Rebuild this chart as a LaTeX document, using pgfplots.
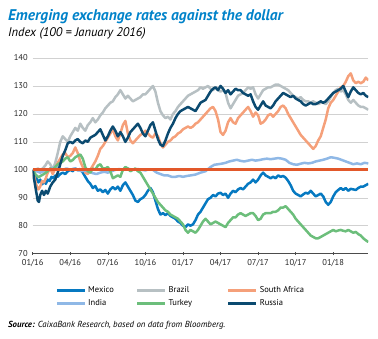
\documentclass[border=0pt]{standalone}
\usepackage{pgfplots}
\pgfplotsset{compat=1.18}
\usepackage{fontspec}
\setmainfont{PT Sans}
\definecolor{mexico}{HTML}{0679C1}
\definecolor{brazil}{HTML}{B7C0C3}
\definecolor{safrica}{HTML}{F5A07A}
\definecolor{india}{HTML}{8FB8E6}
\definecolor{turkey}{HTML}{6CBE7B}
\definecolor{russia}{HTML}{0B4A70}
\definecolor{redline}{HTML}{E2582A}
\definecolor{titleblue}{HTML}{0082C9}
\begin{document}
\begin{tikzpicture}
\useasboundingbox (0pt,0pt) rectangle (378pt,338pt);
\node[anchor=base west,inner sep=0,font=\fontsize{15.5}{17}\selectfont\bfseries\itshape,text=titleblue] at (8pt,317.5pt) {Emerging exchange rates against the dollar};
\node[anchor=base west,inner sep=0,font=\fontsize{12.5}{14}\selectfont\itshape] at (8pt,301.3pt) {Index (100 = January 2016)};
\node[anchor=base west,inner sep=0,font=\fontsize{8.8}{10}\selectfont\itshape] at (8pt,11pt) {\textbf{Source:} CaixaBank Research, based on data from Bloomberg.};
\begin{axis}[
  at={(32.7pt,84.3pt)}, anchor=south west,
  scale only axis, width=335.6pt, height=195.7pt,
  xmin=0, xmax=26.8, ymin=70, ymax=140,
  axis x line*=bottom, axis y line*=left,
  axis line style={-},
  y axis line style={draw=none},
  x axis line style={draw=black!70, line width=0.6pt},
  xtick={0,3,...,24},
  xticklabels={01/16,04/16,07/16,10/16,01/17,04/17,07/17,10/17,01/18},
  ytick={70,80,...,140},
  ymajorgrids,
  grid style={black!18, line width=0.5pt},
  tick align=center,
  major tick length=3pt,
  xtick style={draw=black!70, line width=0.5pt},
  ytick style={draw=none},
  tick label style={font=\fontsize{8.5}{9}\selectfont, text=black!85},
  xticklabel style={yshift=-1pt},
  /pgf/number format/assume math mode=true,
  legend columns=3,
  legend cell align=left,
  legend style={draw=none, fill=none, at={(0.058,-0.148)}, anchor=north west,
    font=\fontsize{8.5}{9}\selectfont, row sep=1pt,
    /tikz/column 2/.style={column sep=20pt},
    /tikz/column 4/.style={column sep=33pt}},
  legend image code/.code={\draw[#1, line width=2.8pt] (0pt,0pt) -- (28pt,0pt);},
  every axis plot/.append style={line width=2.5pt, line join=round},
]
\addplot[mexico] coordinates {
(0,100)(0.15,98.5)(0.3,97)(0.45,95.5)(0.6,96.5)(0.75,94.8)(0.9,95.8)(1.05,95)(1.2,96.5)(1.35,96)(1.5,97.5)(1.65,97)(1.8,98)(2.0,97.5)(2.2,98.5)(2.4,99)(2.6,98.5)(2.8,99.5)(3.0,100)(3.2,99.5)(3.4,100.5)(3.6,99.8)(3.8,100.3)(4.0,99)(4.2,97.5)(4.4,96)(4.6,95)(4.8,93.5)(5.0,94.2)(5.2,92.5)(5.4,93)(5.6,92)(5.8,92.8)(6.0,91.5)(6.2,93)(6.4,93.8)(6.6,93)(6.8,94)(7.0,92.5)(7.2,94.5)(7.4,95.5)(7.6,94)(7.8,92.5)(8.0,91)(8.2,89)(8.4,88.5)(8.6,89.5)(8.8,90)(9.0,91)(9.2,92.5)(9.4,93.5)(9.6,92)(9.8,89)(10.0,86)(10.2,84)(10.4,84.5)(10.6,83.8)(10.8,84.5)(11.0,83.5)(11.2,83)(11.4,82.5)(11.6,81.5)(11.8,81)(12.0,80)(12.2,79.5)(12.4,80.5)(12.6,80)(12.8,80.5)(13.0,82)(13.2,84)(13.4,85)(13.6,86.5)(13.8,88)(14.0,89.5)(14.2,90)(14.4,91)(14.6,90.5)(14.8,91.5)(15.0,91.8)(15.2,91)(15.4,91.5)(15.6,90)(15.8,91.5)(16.0,92.5)(16.2,92)(16.4,93)(16.6,93.5)(16.8,93)(17.0,94)(17.2,95)(17.4,95.5)(17.6,96.5)(17.8,95.5)(18.0,96.5)(18.2,98)(18.4,99)(18.6,98)(18.8,97.5)(19.0,97)(19.2,97.5)(19.4,97)(19.6,98)(19.8,97.5)(20.0,97.8)(20.2,97.2)(20.4,96)(20.6,94.5)(20.8,92.5)(21.0,91.5)(21.2,91)(21.4,90.5)(21.6,91.2)(21.8,91.8)(22.0,91.5)(22.2,92.5)(22.4,91.5)(22.6,90.5)(22.8,91)(23.0,91.5)(23.2,90.5)(23.4,88.5)(23.6,87.5)(23.8,88.5)(24.0,90.5)(24.2,92)(24.4,92.8)(24.6,93.5)(24.8,92.8)(25.0,93.5)(25.2,92.5)(25.4,93.2)(25.6,93)(25.8,92.8)(26.0,93.5)(26.2,94)(26.4,94)(26.6,94.5)(26.8,95)
};
\addlegendentry{Mexico}
\addplot[brazil] coordinates {
(0,100)(0.2,99.5)(0.4,100.5)(0.6,100)(0.8,100.5)(1.0,101.5)(1.2,103)(1.4,102)(1.6,100)(1.8,102.5)(2.0,106)(2.2,110)(2.4,112)(2.6,111)(2.8,110)(3.0,112)(3.2,113.5)(3.4,115)(3.6,114)(3.8,116.5)(4.0,115)(4.2,114)(4.4,116)(4.6,117)(4.8,118.5)(5.0,117)(5.2,118)(5.4,119.5)(5.6,120.5)(5.8,122)(6.0,123)(6.2,124)(6.4,124.5)(6.6,126)(6.8,127)(7.0,128.5)(7.2,127)(7.4,125.5)(7.6,126.5)(7.8,125.5)(8.0,124.5)(8.2,125)(8.4,125.5)(8.6,126)(8.8,127)(9.0,127)(9.2,128)(9.4,129)(9.6,130)(9.8,128)(10.0,124)(10.2,121)(10.4,119.5)(10.6,118.5)(10.8,119)(11.0,118)(11.2,120)(11.4,121)(11.6,122.5)(11.8,123.5)(12.0,124.5)(12.2,125.5)(12.4,126.5)(12.6,127)(12.8,127.5)(13.0,128)(13.2,128.5)(13.4,129.5)(13.6,129)(14.0,130)(14.2,129)(14.4,128.5)(14.6,129.5)(14.8,128.5)(15.0,128)(15.2,128.5)(15.4,127.5)(15.6,124)(15.8,122)(16.0,123.5)(16.2,125)(16.4,126.5)(16.6,127)(16.8,127.5)(17.0,128.5)(17.2,129.5)(17.4,129)(17.6,129.5)(17.8,127)(18.0,125.5)(18.2,127)(18.4,128.5)(18.6,129)(18.8,129.5)(19.0,129.5)(19.2,130)(19.4,130.5)(19.6,130.5)(19.8,130)(20.0,129.5)(20.2,129)(20.4,128.5)(20.6,127.5)(20.8,126.5)(21.0,126)(21.2,125.5)(21.4,126)(21.6,125)(21.8,124.5)(22.0,124.5)(22.2,124)(22.4,124.5)(22.6,124)(22.8,123.5)(23.0,124)(23.2,124)(23.4,123.5)(23.6,124.5)(23.8,126)(24.0,127.5)(24.2,128.5)(24.4,129)(24.6,128)(24.8,128.5)(25.0,127)(25.2,125)(25.4,124)(25.6,125)(25.8,124)(26.0,123)(26.2,122.5)(26.4,122.5)(26.6,122)(26.8,121.5)
};
\addlegendentry{Brazil}
\addplot[safrica] coordinates {
(0,100)(0.15,97)(0.3,94.5)(0.45,93)(0.6,94)(0.75,96)(0.9,95.5)(1.05,97)(1.2,99)(1.4,100.5)(1.6,98.5)(1.8,100.5)(2.0,102.5)(2.2,104)(2.4,105.5)(2.6,106)(2.8,104.5)(3.0,105)(3.2,106)(3.4,108)(3.6,106)(3.8,103)(4.0,101)(4.2,99)(4.4,98.5)(4.6,100)(4.8,101.5)(5.0,103)(5.2,105)(5.4,107.5)(5.6,108.5)(5.8,110)(6.0,111.5)(6.2,113)(6.4,114.5)(6.6,112)(6.8,110.5)(7.0,113)(7.2,116)(7.4,117.5)(7.6,113)(7.8,110.5)(8.0,109.5)(8.2,110.5)(8.4,111.5)(8.6,112.5)(8.8,113)(9.0,114)(9.2,113)(9.4,112)(9.6,111.5)(9.8,113)(10.0,112)(10.2,109.5)(10.4,108)(10.6,109)(10.8,110)(11.0,110.5)(11.2,111.5)(11.4,112)(11.6,113)(11.8,113.5)(12.0,114.5)(12.2,115)(12.4,115.5)(12.6,115)(12.8,115.5)(13.0,116.5)(13.2,117)(13.4,118)(13.6,119)(13.8,120)(14.0,121)(14.2,122)(14.4,122.5)(14.6,121)(14.8,118)(15.0,113.5)(15.2,112.5)(15.4,114)(15.6,117)(15.8,118.5)(16.0,117)(16.2,116.5)(16.4,118.5)(16.6,119.5)(16.8,120.5)(17.0,121.5)(17.2,122.5)(17.4,121)(17.6,119)(17.8,120.5)(18.0,119.5)(18.2,116.5)(18.4,117)(18.6,118)(18.8,119.5)(19.0,120)(19.2,119)(19.4,120)(19.6,121)(19.8,122.5)(20.0,123)(20.2,122)(20.4,120)(20.6,118.5)(20.8,117)(21.0,115.5)(21.2,114)(21.4,112.5)(21.6,111.5)(21.8,110.5)(22.0,109.5)(22.2,108.5)(22.4,107.5)(22.6,108.5)(22.8,110.5)(23.0,112)(23.2,115)(23.4,118)(23.6,122)(23.8,124)(24.0,125)(24.2,126.5)(24.4,128)(24.6,129.5)(24.8,130)(25.0,131.5)(25.2,133.5)(25.4,134.5)(25.6,132)(25.8,131)(26.0,131.5)(26.2,131)(26.4,131.5)(26.6,133)(26.8,132)
};
\addlegendentry{South Africa}
\addplot[india] coordinates {
(0,100)(0.3,99.5)(0.6,99)(0.9,99.5)(1.2,100)(1.5,100.5)(1.8,101)(2.1,100.5)(2.4,100)(2.7,100.5)(3.0,100)(3.3,100.5)(3.6,100)(3.9,99.5)(4.2,99.8)(4.5,99.3)(4.8,98.8)(5.1,98.5)(5.4,99)(5.7,99.3)(6.0,99)(6.3,99.5)(6.6,100)(6.9,100.3)(7.2,100)(7.5,100.5)(7.8,100.2)(8.1,100)(8.4,100.3)(8.7,100)(9.0,99.8)(9.3,100.2)(9.6,100)(9.9,99)(10.2,98.5)(10.5,98)(10.8,98)(11.1,97.5)(11.4,97.5)(11.7,97.8)(12.0,97.5)(12.3,97.8)(12.6,98)(13.0,98.3)(13.4,99)(13.8,99.5)(14.2,101)(14.5,101.8)(14.8,102)(15.1,102.2)(15.4,102.5)(15.7,103)(16.0,103.3)(16.3,103.6)(16.6,103.2)(16.9,103)(17.2,103.3)(17.5,103.6)(17.8,103.3)(18.1,103.5)(18.4,103.8)(18.7,104)(19.0,103.8)(19.3,104)(19.6,104.2)(19.9,104)(20.2,103.6)(20.5,102.5)(20.8,102)(21.1,101.8)(21.4,102.2)(21.7,102.5)(22.0,102.3)(22.3,102.5)(22.6,103)(22.9,103.3)(23.2,103.6)(23.5,104)(23.8,104.5)(24.1,104.3)(24.4,104)(24.7,103.5)(25.0,103)(25.3,102.5)(25.6,102)(25.9,102.3)(26.2,102)(26.5,102.5)(26.8,102.3)
};
\addlegendentry{India}
\addplot[turkey] coordinates {
(0,100)(0.2,98.5)(0.45,97.3)(0.7,98)(0.9,98.5)(1.2,99.5)(1.4,100.5)(1.6,100)(1.8,101)(2.0,102)(2.2,102.5)(2.4,103)(2.6,104)(2.8,104.5)(3.0,103)(3.2,103.5)(3.4,104.5)(3.6,105)(3.8,105.5)(4.0,104)(4.2,101)(4.4,99.5)(4.6,99)(4.8,100.5)(5.0,100)(5.2,101.5)(5.4,102)(5.6,100.5)(5.8,100.5)(6.0,101)(6.2,99.5)(6.4,97)(6.6,97.5)(6.8,98)(7.0,97.5)(7.2,100)(7.4,101)(7.6,100.5)(7.8,99.5)(8.0,100)(8.2,100.5)(8.4,99.5)(8.6,99)(8.8,97.5)(9.0,96)(9.2,94.5)(9.4,93)(9.6,91.5)(9.8,90)(10.0,88.5)(10.2,87.5)(10.4,86.5)(10.6,85.5)(10.8,85)(11.0,84)(11.2,83.5)(11.4,83)(11.6,82.5)(11.8,81.5)(12.0,80.5)(12.2,78.5)(12.4,77.5)(12.6,78.5)(12.8,78)(13.0,77.5)(13.2,78.5)(13.4,80)(13.6,81.5)(13.8,82.5)(14.0,81.5)(14.2,80.5)(14.4,81)(14.6,81.5)(14.8,81)(15.0,80.5)(15.2,80)(15.4,79.5)(15.6,81)(15.8,82)(16.0,83)(16.2,83)(16.4,84)(16.6,84.5)(16.8,84)(17.0,83.5)(17.2,84)(17.4,84.5)(17.6,84.5)(17.8,83.5)(18.0,82)(18.2,82.5)(18.4,84)(18.6,84.5)(18.8,84.5)(19.0,84.5)(19.2,85)(19.4,85)(19.6,85.5)(19.8,86.5)(20.0,86.5)(20.2,87)(20.4,86)(20.6,85)(20.8,84)(21.0,82.5)(21.2,81.5)(21.4,80.5)(21.6,79.5)(21.8,78.5)(22.0,77.5)(22.2,76.5)(22.4,76)(22.6,75.5)(22.8,75.5)(23.0,76)(23.2,76.5)(23.4,77)(23.6,77.5)(23.8,78)(24.0,78.5)(24.2,78)(24.4,78.3)(24.6,78.5)(24.8,78.2)(25.0,78)(25.2,78.5)(25.4,78)(25.6,77.5)(25.8,77.8)(26.0,77)(26.2,76.5)(26.4,75.5)(26.6,74.8)(26.8,74.2)
};
\addlegendentry{Turkey}
\addplot[russia] coordinates {
(0,100)(0.1,97)(0.25,93)(0.4,89)(0.5,88.5)(0.6,91)(0.75,92.5)(0.9,91)(1.05,92.5)(1.2,91.5)(1.4,94)(1.6,95.5)(1.8,96.5)(2.0,99)(2.2,102)(2.4,105)(2.6,107)(2.8,109.5)(3.0,110)(3.2,109.5)(3.4,110.5)(3.6,111)(3.8,110)(4.0,109.5)(4.2,110.5)(4.4,110)(4.6,111.5)(4.8,112)(5.0,112.5)(5.2,113.5)(5.4,114.5)(5.6,112.5)(5.8,110.5)(6.0,112)(6.2,114)(6.4,115.5)(6.6,114)(6.8,112)(7.0,113.5)(7.2,112)(7.4,110)(7.6,111.5)(7.8,113.5)(8.0,114.5)(8.2,115.5)(8.4,116.5)(8.6,115)(8.8,113)(9.0,112)(9.2,114)(9.4,116)(9.6,117)(9.8,114)(10.0,111)(10.2,109)(10.4,108.5)(10.6,110.5)(10.8,113)(11.0,115)(11.2,116.5)(11.4,118.5)(11.6,120)(11.8,121)(12.0,121.5)(12.2,122)(12.4,122.5)(12.6,122)(12.8,121.5)(13.0,121)(13.2,122.5)(13.4,124)(13.6,124.5)(13.8,125)(14.0,126.5)(14.2,128)(14.4,129)(14.6,129.5)(14.8,128.5)(15.0,130)(15.2,129)(15.4,127.5)(15.6,128.5)(15.8,127)(16.0,128)(16.2,129)(16.4,128.5)(16.6,128.5)(16.8,127.5)(17.0,127)(17.2,126.5)(17.4,127)(17.6,124.5)(17.8,122.5)(18.0,121.5)(18.2,123)(18.4,124.5)(18.6,123)(18.8,122.5)(19.0,122)(19.2,123)(19.4,124.5)(19.6,125.5)(19.8,126.5)(20.0,127.5)(20.2,127)(20.4,126.5)(20.6,126)(20.8,126.5)(21.0,125.5)(21.2,125)(21.4,124.5)(21.6,123.5)(21.8,123)(22.0,123.5)(22.2,124)(22.4,123.5)(22.6,123.5)(22.8,124)(23.0,124.5)(23.2,124)(23.4,124.5)(23.6,125.5)(23.8,126.5)(24.0,127.5)(24.2,128)(24.4,128.5)(24.6,129)(24.8,130)(25.0,128)(25.2,126)(25.4,128)(25.6,129.5)(25.8,128.5)(26.0,127.5)(26.2,127)(26.4,127.5)(26.6,126.5)(26.8,126)
};
\addlegendentry{Russia}
\addplot[redline, line width=2.8pt, forget plot] coordinates {(0,100)(26.8,100)};
\end{axis}
\end{tikzpicture}
\end{document}
